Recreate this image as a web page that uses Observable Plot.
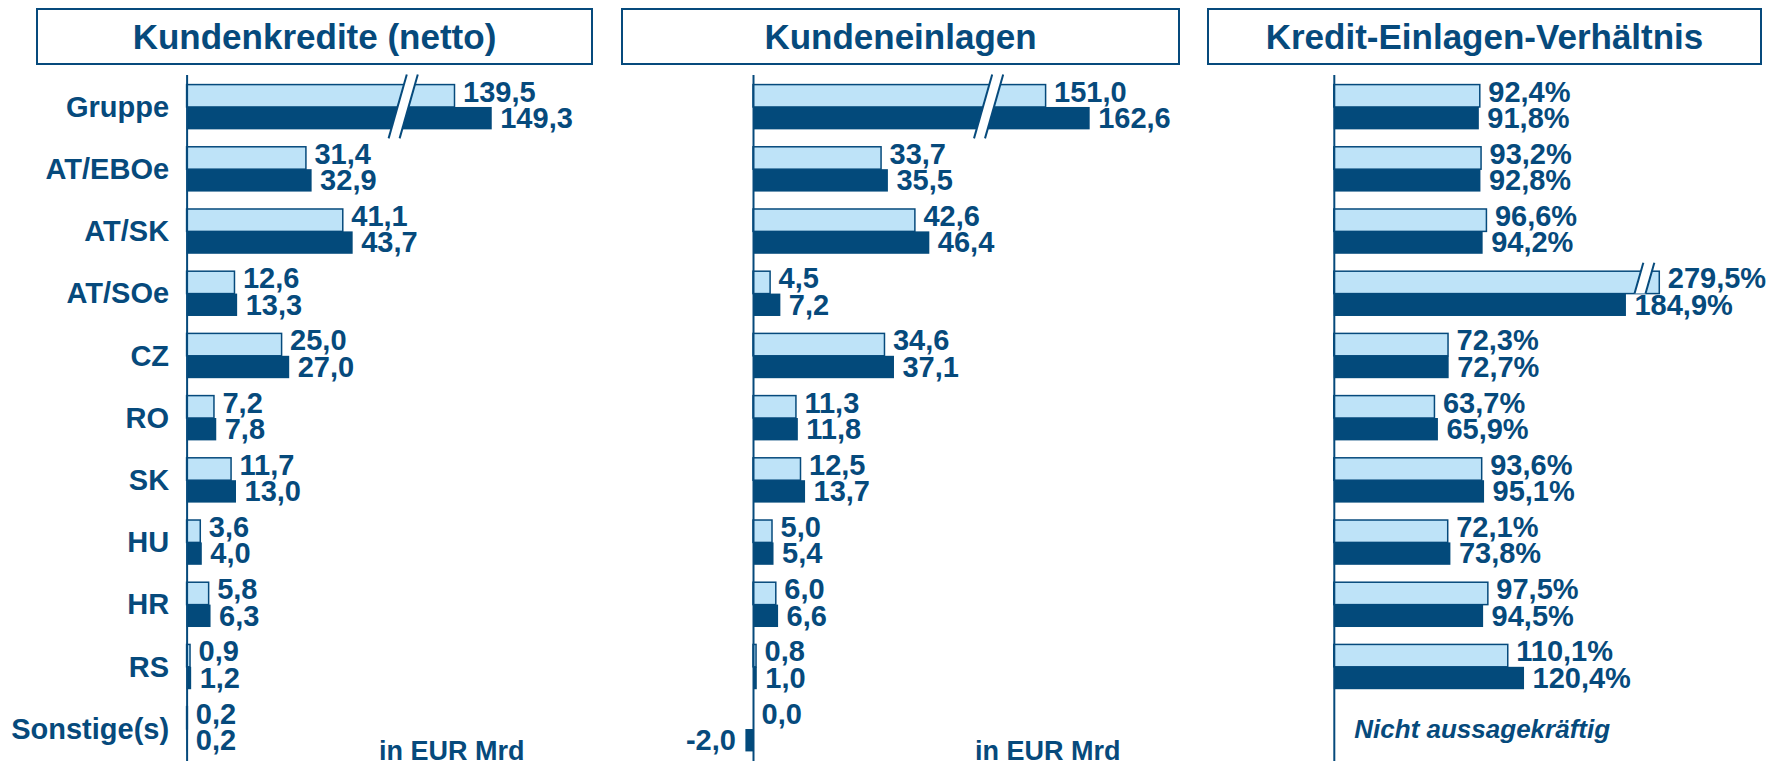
<!DOCTYPE html>
<html><head><meta charset="utf-8">
<script src="https://cdn.jsdelivr.net/npm/d3@7"></script>
<script src="https://cdn.jsdelivr.net/npm/@observablehq/plot@0.6"></script>
<style>
html,body{margin:0;padding:0;background:#fff;}
#root{position:relative;width:1771px;height:766px;overflow:hidden;font-family:"Liberation Sans",Arial,sans-serif;color:#064A7C;}
.panel{position:absolute;top:0;}
.title{position:absolute;box-sizing:border-box;border:2px solid #064A7C;display:flex;align-items:center;justify-content:center;font-weight:bold;font-size:35px;background:#fff;white-space:nowrap;}
.caption{position:absolute;font-weight:bold;font-size:27px;line-height:20px;white-space:nowrap;}
</style></head><body><div id="root"></div>
<script>
// ---------- data ----------
const categories = ["Gruppe","AT/EBOe","AT/SK","AT/SOe","CZ","RO","SK","HU","HR","RS","Sonstige(s)"];
const loansPrev    = [139.5, 31.4, 41.1, 12.6, 25.0, 7.2, 11.7, 3.6, 5.8, 0.9, 0.2];
const loansCurr    = [149.3, 32.9, 43.7, 13.3, 27.0, 7.8, 13.0, 4.0, 6.3, 1.2, 0.2];
const depositsPrev = [151.0, 33.7, 42.6, 4.5, 34.6, 11.3, 12.5, 5.0, 6.0, 0.8, 0.0];
const depositsCurr = [162.6, 35.5, 46.4, 7.2, 37.1, 11.8, 13.7, 5.4, 6.6, 1.0, -2.0];
const ratioPrev    = [92.4, 93.2, 96.6, 279.5, 72.3, 63.7, 93.6, 72.1, 97.5, 110.1, null];
const ratioCurr    = [91.8, 92.8, 94.2, 184.9, 72.7, 65.9, 95.1, 73.8, 94.5, 120.4, null];
const titles = ["Kundenkredite (netto)", "Kundeneinlagen", "Kredit-Einlagen-Verhältnis"];
const unitLabel = "in EUR Mrd";
const noteRows = [{cat: "Sonstige(s)", text: "Nicht aussagekräftig"}];

// ---------- style ----------
const NAVY = "#064A7C", LIGHT = "#BEE3F8", DARK = "#034A7B";
const FONT = '"Liberation Sans", Arial, sans-serif';
const H = 766, MT = 75, MB = 5, PI = 0.28, PO = 0.154;
const bw = d3.scaleBand(categories, [MT, H - MB]).paddingInner(PI).paddingOuter(PO).bandwidth();

const de = v => v == null ? "" : v.toFixed(1).replace(".", ",");
const pct = v => v == null ? "" : de(v) + "%";

function breakMark(cat, at, span) {
  return (index, scales) => {
    const x = scales.x, y = scales.y;
    const b = typeof y.bandwidth === "function" ? y.bandwidth() : y.bandwidth;
    const y0 = y(cat);
    const top = y0 - (span === "pair" ? 10 : 8.5);
    const bot = span === "pair" ? y0 + b + 9 : y0 + b / 2;
    const mid = (top + bot) / 2, xm = x(at), gap = 11, k = 0.285;
    const X = (o, yy) => xm + o - k * (yy - mid);
    const g = d3.create("svg:g");
    g.append("polygon")
      .attr("points", [[X(-gap/2, top), top], [X(gap/2, top), top], [X(gap/2, bot), bot], [X(-gap/2, bot), bot]].map(p => p.join(",")).join(" "))
      .attr("fill", "white");
    for (const o of [-gap/2, gap/2]) {
      g.append("line").attr("x1", X(o, top)).attr("y1", top).attr("x2", X(o, bot)).attr("y2", bot)
        .attr("stroke", NAVY).attr("stroke-width", 2);
    }
    return g.node();
  };
}

function panel({prev, curr, left, width, marginLeft, pxPerUnit, domain, cutAbove, cut, fmt, showY, breaks = [], extra = []}) {
  const rows = categories.map((c, i) => ({cat: c, prev: prev[i], curr: curr[i]}));
  const ok = k => d => d[k] != null;
  const svg = Plot.plot({
    width, height: H,
    marginLeft, marginRight: 0, marginTop: MT, marginBottom: MB,
    style: {fontFamily: FONT, fontSize: "29px", fontWeight: "bold", color: NAVY, background: "transparent", overflow: "visible"},
    x: {domain, range: [marginLeft, marginLeft + (domain[1] - domain[0]) * pxPerUnit], axis: null,
        transform: v => v > cutAbove ? v - cut : v},
    y: {domain: categories, paddingInner: PI, paddingOuter: PO, round: false,
        axis: showY ? "left" : null, tickSize: 0, tickPadding: 18, label: null},
    marks: [
      Plot.barX(rows, {filter: ok("prev"), x1: 0, x2: "prev", y: "cat", fill: LIGHT, stroke: NAVY, strokeWidth: 1.5, insetBottom: bw / 2}),
      Plot.barX(rows, {filter: ok("curr"), x1: 0, x2: "curr", y: "cat", fill: DARK, insetTop: bw / 2}),
      ...breaks.map(([cat, at, span]) => breakMark(cat, at, span)),
      Plot.ruleX([0], {stroke: NAVY, strokeWidth: 2}),
      Plot.text(rows, {filter: d => d.prev != null && d.prev >= 0, x: "prev", y: "cat", text: d => fmt(d.prev), dx: 8, dy: -bw / 4 - 4, textAnchor: "start"}),
      Plot.text(rows, {filter: d => d.prev != null && d.prev < 0, x: "prev", y: "cat", text: d => fmt(d.prev), dx: -10, dy: -bw / 4 - 4, textAnchor: "end"}),
      Plot.text(rows, {filter: d => d.curr != null && d.curr >= 0, x: "curr", y: "cat", text: d => fmt(d.curr), dx: 8, dy: bw / 4, textAnchor: "start"}),
      Plot.text(rows, {filter: d => d.curr != null && d.curr < 0, x: "curr", y: "cat", text: d => fmt(d.curr), dx: -10, dy: bw / 4, textAnchor: "end"}),
      ...extra
    ]
  });
  const div = document.createElement("div");
  div.className = "panel";
  div.style.left = left + "px";
  div.appendChild(svg);
  return div;
}

const root = document.getElementById("root");
root.appendChild(panel({prev: loansPrev, curr: loansCurr, left: 0, width: 600, marginLeft: 186.6, pxPerUnit: 3.8,
  domain: [0, 100], cutAbove: 100, cut: 69, fmt: de, showY: true, breaks: [["Gruppe", 57, "pair"]]}));
root.appendChild(panel({prev: depositsPrev, curr: depositsCurr, left: 600, width: 580, marginLeft: 115, pxPerUnit: 3.8,
  domain: [-10, 100], cutAbove: 100, cut: 74, fmt: de, showY: false, breaks: [["Gruppe", 62, "pair"]]}));
root.appendChild(panel({prev: ratioPrev, curr: ratioCurr, left: 1180, width: 591, marginLeft: 153.8, pxPerUnit: 1.58,
  domain: [0, 200], cutAbove: 200, cut: 73.5, fmt: pct, showY: false, breaks: [["AT/SOe", 196.6, "light"]],
  extra: [Plot.text(noteRows, {x: () => 0, y: "cat", text: "text", dx: 20, textAnchor: "start", fontStyle: "italic", fontSize: 26})]}));

const boxes = [[36, 557], [621, 559], [1207, 555]];
titles.forEach((t, i) => {
  const d = document.createElement("div");
  d.className = "title";
  d.style.left = boxes[i][0] + "px"; d.style.top = "8px";
  d.style.width = boxes[i][1] + "px"; d.style.height = "57px";
  d.textContent = t;
  root.appendChild(d);
});
[[379, 741], [975, 741]].forEach(([l, t]) => {
  const c = document.createElement("div");
  c.className = "caption";
  c.style.left = l + "px"; c.style.top = t + "px";
  c.textContent = unitLabel;
  root.appendChild(c);
});
</script>
</body></html>
